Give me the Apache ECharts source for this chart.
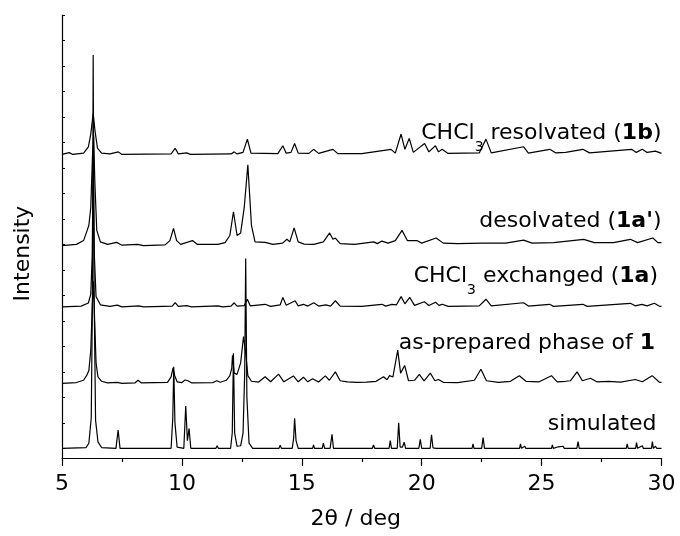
<!DOCTYPE html>
<html><head><meta charset="utf-8">
<script src="https://cdn.jsdelivr.net/npm/echarts@6/dist/echarts.min.js"></script>
<style>html,body{margin:0;padding:0;background:#fff}#c{width:680px;height:536px}</style>
</head><body><div id="c"></div>
<script>
// 2θ tick values
const xTicks = [5, 10, 15, 20, 25, 30];
// y tick positions (arbitrary intensity units)
const yTicks = [0,100,200,300,400,500,600,700,800,900,1000,1100,1200,1300,1400,1500,1600,1700];
// vertical stacking offset of each pattern
const offsets = [0, 255, 555, 795, 1153];

// [2θ, intensity]
const simulated = [[5,0],[6.0,3],[6.12,20],[6.22,120],[6.27,600],[6.3,1543],[6.34,600],[6.4,110],[6.5,25],[6.65,3],
 [7.25,0],[7.34,72],[7.42,0],
 [9.55,0],[9.62,120],[9.66,320],[9.71,100],[9.8,5],
 [10.08,0],[10.16,166],[10.23,30],[10.3,78],[10.37,0],
 [11.42,0],[11.47,10],[11.52,0],
 [12.03,0],[12.1,60],[12.15,373],[12.2,60],[12.3,8],[12.45,10],[12.55,60],[12.62,300],[12.66,745],[12.71,200],[12.8,20],[12.95,0],
 [14.05,0],[14.1,12],[14.15,0],
 [14.6,0],[14.66,40],[14.7,118],[14.76,30],[14.85,0],
 [15.45,0],[15.49,13],[15.53,0],[15.85,0],[15.9,20],[15.95,0],
 [16.18,0],[16.26,55],[16.32,0],
 [17.94,0],[17.99,13],[18.04,0],[18.64,0],[18.69,30],[18.74,0],
 [18.98,0],[19.04,100],[19.1,5],[19.2,5],[19.27,24],[19.33,0],
 [19.88,0],[19.94,35],[20.0,0],[20.35,0],[20.41,53],[20.47,2],[20.55,8],[20.6,0],
 [21.75,0],[21.78,5],[21.81,0],[22.1,0],[22.14,17],[22.18,0],
 [22.5,0],[22.56,42],[22.62,0],[23.22,0],[23.25,6],[23.28,0],
 [24.08,0],[24.12,17],[24.16,0],[24.3,8],[24.34,0],
 [25.41,0],[25.45,13],[25.49,0],[25.7,6],[25.73,0],[25.9,8],[25.94,0],
 [26.47,0],[26.52,26],[26.57,0],
 [28.53,0],[28.57,17],[28.61,0],[28.92,0],[28.96,22],[29.0,0],[29.2,10],[29.24,0],
 [29.58,0],[29.62,26],[29.66,0],[29.75,8],[29.8,0],[30,0]];

const asPrepared = [[5,0],[5.6,3],[5.9,12],[6.03,31],[6.12,50],[6.2,130],[6.26,300],[6.31,400],[6.36,250],[6.42,80],[6.5,25],[6.65,8],[6.9,2],
 [7.3,4],[7.5,0],[8.05,2],[8.17,12],[8.3,2],
 [9.4,4],[9.55,25],[9.63,61],[9.7,30],[9.8,6],[10.0,3],[10.13,13],[10.25,10],[10.4,2],
 [11.3,3],[11.45,10],[11.6,4],[11.85,12],[12.0,30],[12.08,60],[12.11,110],[12.18,40],[12.3,35],[12.45,80],[12.57,183],[12.66,120],[12.75,30],[12.9,8],
 [13.2,5],[13.47,26],[13.7,6],[14.03,36],[14.25,6],[14.65,29],[14.85,6],[15.07,24],[15.25,6],[15.45,18],[15.7,5],[15.98,29],[16.15,12],[16.4,45],[16.6,10],
 [16.9,6],[17.3,4],[17.7,5],[18.1,8],[18.41,26],[18.55,14],[18.66,30],[18.8,25],[19.0,130],[19.12,40],[19.29,70],[19.45,10],[19.7,12],[19.9,35],[20.1,10],
 [20.36,40],[20.55,10],[20.7,15],[20.9,4],[21.5,3],[22.2,12],[22.47,55],[22.7,10],[23.2,4],[23.7,8],[24.07,30],[24.35,8],[24.9,6],[25.41,30],[25.65,6],
 [26.0,8],[26.2,10],[26.48,45],[26.7,10],[27.04,20],[27.3,6],[27.8,8],[28.3,5],[28.91,15],[29.2,6],[29.61,30],[29.9,5],[30,4]];

const exchanged = [[5,0],[5.8,3],[6.1,15],[6.2,50],[6.26,200],[6.3,575],[6.35,200],[6.42,40],[6.6,8],[7.0,2],[7.3,7],[7.5,0],[8.2,4],[8.4,0],
 [9.6,3],[9.72,17],[9.85,2],[10.2,5],[10.4,0],[11.5,4],[11.7,0],[12.05,3],[12.18,16],[12.3,3],[12.6,5],[12.73,30],[12.85,4],[13.47,10],[13.7,2],
 [14.1,8],[14.21,37],[14.35,6],[14.72,24],[14.85,4],[15.07,10],[15.25,3],[15.5,16],[15.7,3],[16.0,8],[16.2,3],[16.4,24],[16.6,3],[17.5,2],
 [18.34,10],[18.5,3],[18.76,10],[18.95,8],[19.14,40],[19.3,12],[19.5,37],[19.7,6],[20.11,20],[20.3,5],[20.58,18],[20.72,6],[20.86,10],[21.1,2],
 [22.4,4],[22.68,30],[22.9,4],[24.25,16],[24.45,3],[25.33,10],[25.5,2],[26.72,10],[26.9,2],[28.7,14],[28.9,4],[29.18,10],[29.4,4],[29.7,14],[29.9,3],[30,2]];

const desolvated = [[5,0],[5.6,5],[5.9,20],[6.05,60],[6.12,80],[6.2,150],[6.27,350],[6.32,432],[6.37,250],[6.45,60],[6.6,15],[6.9,5],[7.28,13],[7.5,2],
 [8.15,5],[8.4,0],[9.3,3],[9.5,20],[9.65,68],[9.78,20],[9.95,5],[10.44,20],[10.65,5],[11.5,5],[11.8,12],[12.0,40],[12.15,133],[12.3,40],[12.45,50],
 [12.6,150],[12.75,317],[12.9,80],[13.05,15],[13.47,13],[13.8,5],[14.2,10],[14.38,25],[14.5,15],[14.68,70],[14.85,15],[15.1,6],[15.5,5],[15.9,15],
 [16.16,50],[16.3,25],[16.4,30],[16.6,8],[17.2,5],[18.0,15],[18.15,8],[18.34,18],[18.6,10],[18.9,20],[19.18,60],[19.4,20],[19.8,20],[20.0,10],
 [20.6,30],[20.9,10],[21.5,8],[22.5,10],[23.5,10],[24.25,22],[24.6,10],[25.5,12],[26.76,25],[27.2,12],[28.0,12],[28.7,25],[29.0,12],[29.64,30],[29.85,12],[30,12]];

const resolvated = [[5,0],[5.3,7],[5.45,0],[5.9,5],[6.1,30],[6.2,80],[6.3,161],[6.38,90],[6.48,25],[6.65,5],[7.0,2],[7.35,10],[7.5,0],
 [9.55,2],[9.72,24],[9.85,2],[10.2,6],[10.35,0],[12.05,2],[12.18,10],[12.3,2],[12.55,8],[12.73,60],[12.88,5],[14.0,3],[14.21,34],[14.35,5],
 [14.55,8],[14.7,43],[14.85,5],[15.3,4],[15.49,20],[15.7,4],[16.3,20],[16.5,3],[17.5,3],[18.72,20],[18.9,5],[19.14,80],[19.3,20],[19.48,63],
 [19.65,8],[20.12,43],[20.3,10],[20.57,34],[20.7,10],[20.85,20],[21.1,4],[22.4,6],[22.68,60],[22.9,6],[24.25,30],[24.45,5],[25.34,20],[25.6,6],
 [26.0,8],[26.72,20],[27.0,6],[28.75,20],[28.95,8],[29.2,20],[29.4,8],[29.75,13],[30,4]];

const patterns = [simulated, asPrepared, exchanged, desolvated, resolvated];
const names = ['simulated', 'as-prepared phase of 1', 'CHCl3 exchanged (1a)', 'desolvated (1a\')', 'CHCl3 resolvated (1b)'];

const FONT = 'DejaVu Sans';
const chart = echarts.init(document.getElementById('c'), null, {renderer: 'canvas'});

const rich = {
  n: {fontSize: 22, fontFamily: FONT, lineHeight: 24, verticalAlign: 'top', fill: '#000', color: '#000'},
  b: {fontSize: 22, fontFamily: FONT, fontWeight: 'bold', lineHeight: 24, verticalAlign: 'top', fill: '#000', color: '#000'},
  s: {fontSize: 14, fontFamily: FONT, lineHeight: 14, verticalAlign: 'top', padding: [18, 0, 0, 0], fill: '#000', color: '#000'}
};
function label(txt, right, top) {
  return {type: 'text', x: right, y: top, silent: true,
    style: {text: txt, align: 'right', verticalAlign: 'top', rich: rich, fill: '#000', font: '22px ' + FONT}};
}

chart.setOption({
  animation: false,
  backgroundColor: '#fff',
  grid: {left: 62, right: 18.5, top: 15, bottom: 78, containLabel: false},
  xAxis: {
    type: 'value', min: 5, max: 30, interval: 5,
    name: '2θ / deg', nameLocation: 'middle', nameGap: 50,
    nameTextStyle: {fontSize: 22, fontFamily: FONT, color: '#000', padding: [0, 12, 0, 0]},
    axisLine: {show: true, onZero: false, lineStyle: {color: '#000', width: 1.2}},
    axisTick: {show: true, inside: false, length: 8, lineStyle: {color: '#000', width: 1.2}},
    minorTick: {show: true, splitNumber: 2, length: 4, lineStyle: {color: '#000', width: 1.2}},
    axisLabel: {fontSize: 22, fontFamily: FONT, color: '#000', margin: 15},
    splitLine: {show: false}
  },
  yAxis: {
    type: 'value', min: -38, max: 1700,
    name: 'Intensity', nameLocation: 'middle', nameGap: 28,
    nameTextStyle: {fontSize: 22, fontFamily: FONT, color: '#000', padding: [0, 34, 0, 0]},
    axisLine: {show: true, onZero: false, lineStyle: {color: '#000', width: 1.2}},
    axisTick: {show: true, inside: true, length: 3, customValues: yTicks, lineStyle: {color: '#000', width: 1}},
    axisLabel: {show: false},
    splitLine: {show: false}
  },
  series: patterns.map((p, i) => ({
    type: 'line', name: names[i], showSymbol: false, symbol: 'none', sampling: false,
    lineStyle: {color: '#000', width: 1.2}, clip: true,
    data: p.map(d => [d[0], d[1] + offsets[i]])
  })),
  graphic: [
    label('{n|CHCl}{s|3}{n| resolvated (}{b|1b}{n|)}', 661.5, 122),
    label('{n|desolvated (}{b|1a\'}{n|)}', 661.5, 210),
    label('{n|CHCl}{s|3}{n| exchanged (}{b|1a}{n|)}', 658, 265),
    label('{n|as-prepared phase of }{b|1}', 655, 332),
    label('{n|simulated}', 656.5, 413)
  ]
});
</script>
</body></html>
